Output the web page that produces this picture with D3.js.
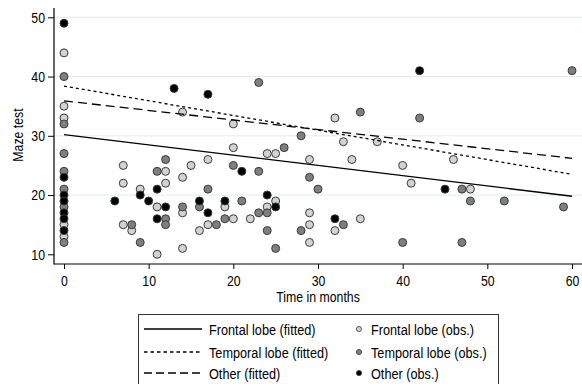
<!DOCTYPE html>
<html><head><meta charset="utf-8">
<script src="https://cdn.jsdelivr.net/npm/d3@7"></script>
<style>
html,body{margin:0;padding:0;background:#fff;}
svg text{font-family:"Liberation Sans",Arial,sans-serif;fill:#000;}
</style></head>
<body><svg id="c" width="582" height="384"></svg>
<script>
// Observations: [months, maze score]
const frontalObs = [[0,44],[0,35],[0,33],[0,15],[0,13],[14,34],[7,25],[7,22],[9,21],[11,18],[12,24],[12,22],[14,23],[15,25],[14,17],[14,11],[11,10],[7,15],[8,14],[16,14],[17,26],[17,15],[19,18],[20,16],[20,28],[22,16],[24,18],[24,27],[25,27],[25,19],[29,26],[29,17],[29,15],[29,12],[32,14],[35,16],[33,29],[34,26],[37,29],[20,32],[32,33],[40,25],[41,22],[46,26],[48,21]];
const temporalObs = [[0,40],[0,32],[0,27],[0,24],[0,21],[0,18],[0,12],[8,15],[9,12],[11,24],[12,26],[12,16],[12,15],[14,18],[16,18],[17,21],[18,15],[19,16],[20,25],[21,19],[23,24],[23,17],[24,17],[24,14],[26,28],[25,11],[23,39],[28,30],[29,23],[30,21],[28,14],[33,15],[35,34],[42,33],[60,41],[47,21],[48,19],[52,19],[59,18],[40,12],[47,12]];
const otherObs = [[0,49],[0,23],[0,20],[0,19],[0,17],[0,16],[0,14],[13,38],[9,20],[6,19],[10,19],[11,21],[12,18],[11,16],[16,19],[17,17],[19,19],[21,24],[24,20],[25,18],[17,37],[32,16],[42,41],[45,21]];
// Fitted lines: [months, fitted score] at ends
const frontalFit = [[0,30.2],[60,19.8]];
const temporalFit = [[0,38.4],[60,23.5]];
const otherFit = [[0,35.9],[60,26.2]];
const xTicks = [0,10,20,30,40,50,60];
const yTicks = [10,20,30,40,50];
const legendLines = ["Frontal lobe (fitted)","Temporal lobe (fitted)","Other (fitted)"];
const legendPoints = ["Frontal lobe (obs.)","Temporal lobe (obs.)","Other (obs.)"];

const svg = d3.select("#c");
const SX = 0.82, FS = 15, LFS = 15.5;
const x = d3.scaleLinear().domain([0,60]).range([64,572]);
const y = d3.scaleLinear().domain([10,50]).range([254.3,17.3]);
const axX = 54, axY = 264;

// gridlines
svg.append("g").selectAll("line").data(yTicks.filter(d=>d>10)).join("line")
  .attr("x1",axX).attr("x2",582).attr("y1",d=>y(d)).attr("y2",d=>y(d))
  .attr("stroke","#e1e9ea").attr("stroke-width",1);

// axes
const gy = svg.append("g").attr("transform",`translate(${axX},0)`)
  .call(d3.axisLeft(y).tickValues(yTicks).tickSize(6).tickPadding(3).tickSizeOuter(0));
const gx = svg.append("g").attr("transform",`translate(0,${axY})`)
  .call(d3.axisBottom(x).tickValues(xTicks).tickSize(5).tickPadding(6).tickSizeOuter(0));
[gy,gx].forEach(g=>{
  g.select(".domain").remove();
  g.selectAll(".tick line").attr("stroke","#000").attr("stroke-width",1);
  g.selectAll(".tick text").attr("font-size",FS).attr("font-family","Liberation Sans, Arial, sans-serif")
    .attr("transform",`scale(${SX},1)`);
});
gy.selectAll(".tick text").attr("x",-9/SX);
svg.append("line").attr("x1",axX).attr("x2",axX).attr("y1",8).attr("y2",axY+0.5).attr("stroke","#000").attr("stroke-width",1.2);
svg.append("line").attr("x1",axX).attr("x2",582).attr("y1",axY).attr("y2",axY).attr("stroke","#000").attr("stroke-width",1.2);

// axis titles
svg.append("g").attr("transform","translate(318,302) scale("+SX+",1)")
  .append("text").attr("text-anchor","middle").attr("font-size",FS).text("Time in months");
svg.append("g").attr("transform","translate(23,135) rotate(-90) scale("+SX+",1)")
  .append("text").attr("text-anchor","middle").attr("font-size",FS).text("Maze test");

// points
const styles = [
  {data:frontalObs, fill:"#d2d2d2"},
  {data:temporalObs, fill:"#7f7f7f"},
  {data:otherObs, fill:"#000"}
];
styles.forEach(s=>{
  svg.append("g").selectAll("circle").data(s.data).join("circle")
    .attr("cx",d=>x(d[0])).attr("cy",d=>y(d[1])).attr("r",4)
    .attr("fill",s.fill).attr("stroke","#3a3a3a").attr("stroke-width",1);
});

// fitted lines
const line = d3.line().x(d=>x(d[0])).y(d=>y(d[1]));
const fits = [
  {data:frontalFit, dash:null},
  {data:temporalFit, dash:"3,3"},
  {data:otherFit, dash:"9,5"}
];
fits.forEach(f=>{
  svg.append("path").datum(f.data).attr("d",line).attr("fill","none")
    .attr("stroke","#000").attr("stroke-width",1.3).attr("stroke-dasharray",f.dash);
});

// legend
const lg = svg.append("g");
lg.append("rect").attr("x",138.5).attr("y",314.5).attr("width",360).attr("height",80)
  .attr("fill","#fff").attr("stroke","#333").attr("stroke-width",1);
const rowsY = [329,352,373];
const ldash = [null,"3.5,3","8,4"];
legendLines.forEach((t,i)=>{
  lg.append("line").attr("x1",144).attr("x2",202).attr("y1",rowsY[i]).attr("y2",rowsY[i])
    .attr("stroke","#000").attr("stroke-width",1.3).attr("stroke-dasharray",ldash[i]);
  lg.append("g").attr("transform",`translate(209,${rowsY[i]+5.5}) scale(${SX},1)`)
    .append("text").attr("font-size",LFS).text(t);
});
const pfill = ["#d2d2d2","#7f7f7f","#000"];
legendPoints.forEach((t,i)=>{
  lg.append("circle").attr("cx",359).attr("cy",rowsY[i]).attr("r",2.6)
    .attr("fill",pfill[i]).attr("stroke","#3a3a3a").attr("stroke-width",0.8);
  lg.append("g").attr("transform",`translate(371,${rowsY[i]+5.5}) scale(${SX},1)`)
    .append("text").attr("font-size",LFS).text(t);
});
</script></body></html>
